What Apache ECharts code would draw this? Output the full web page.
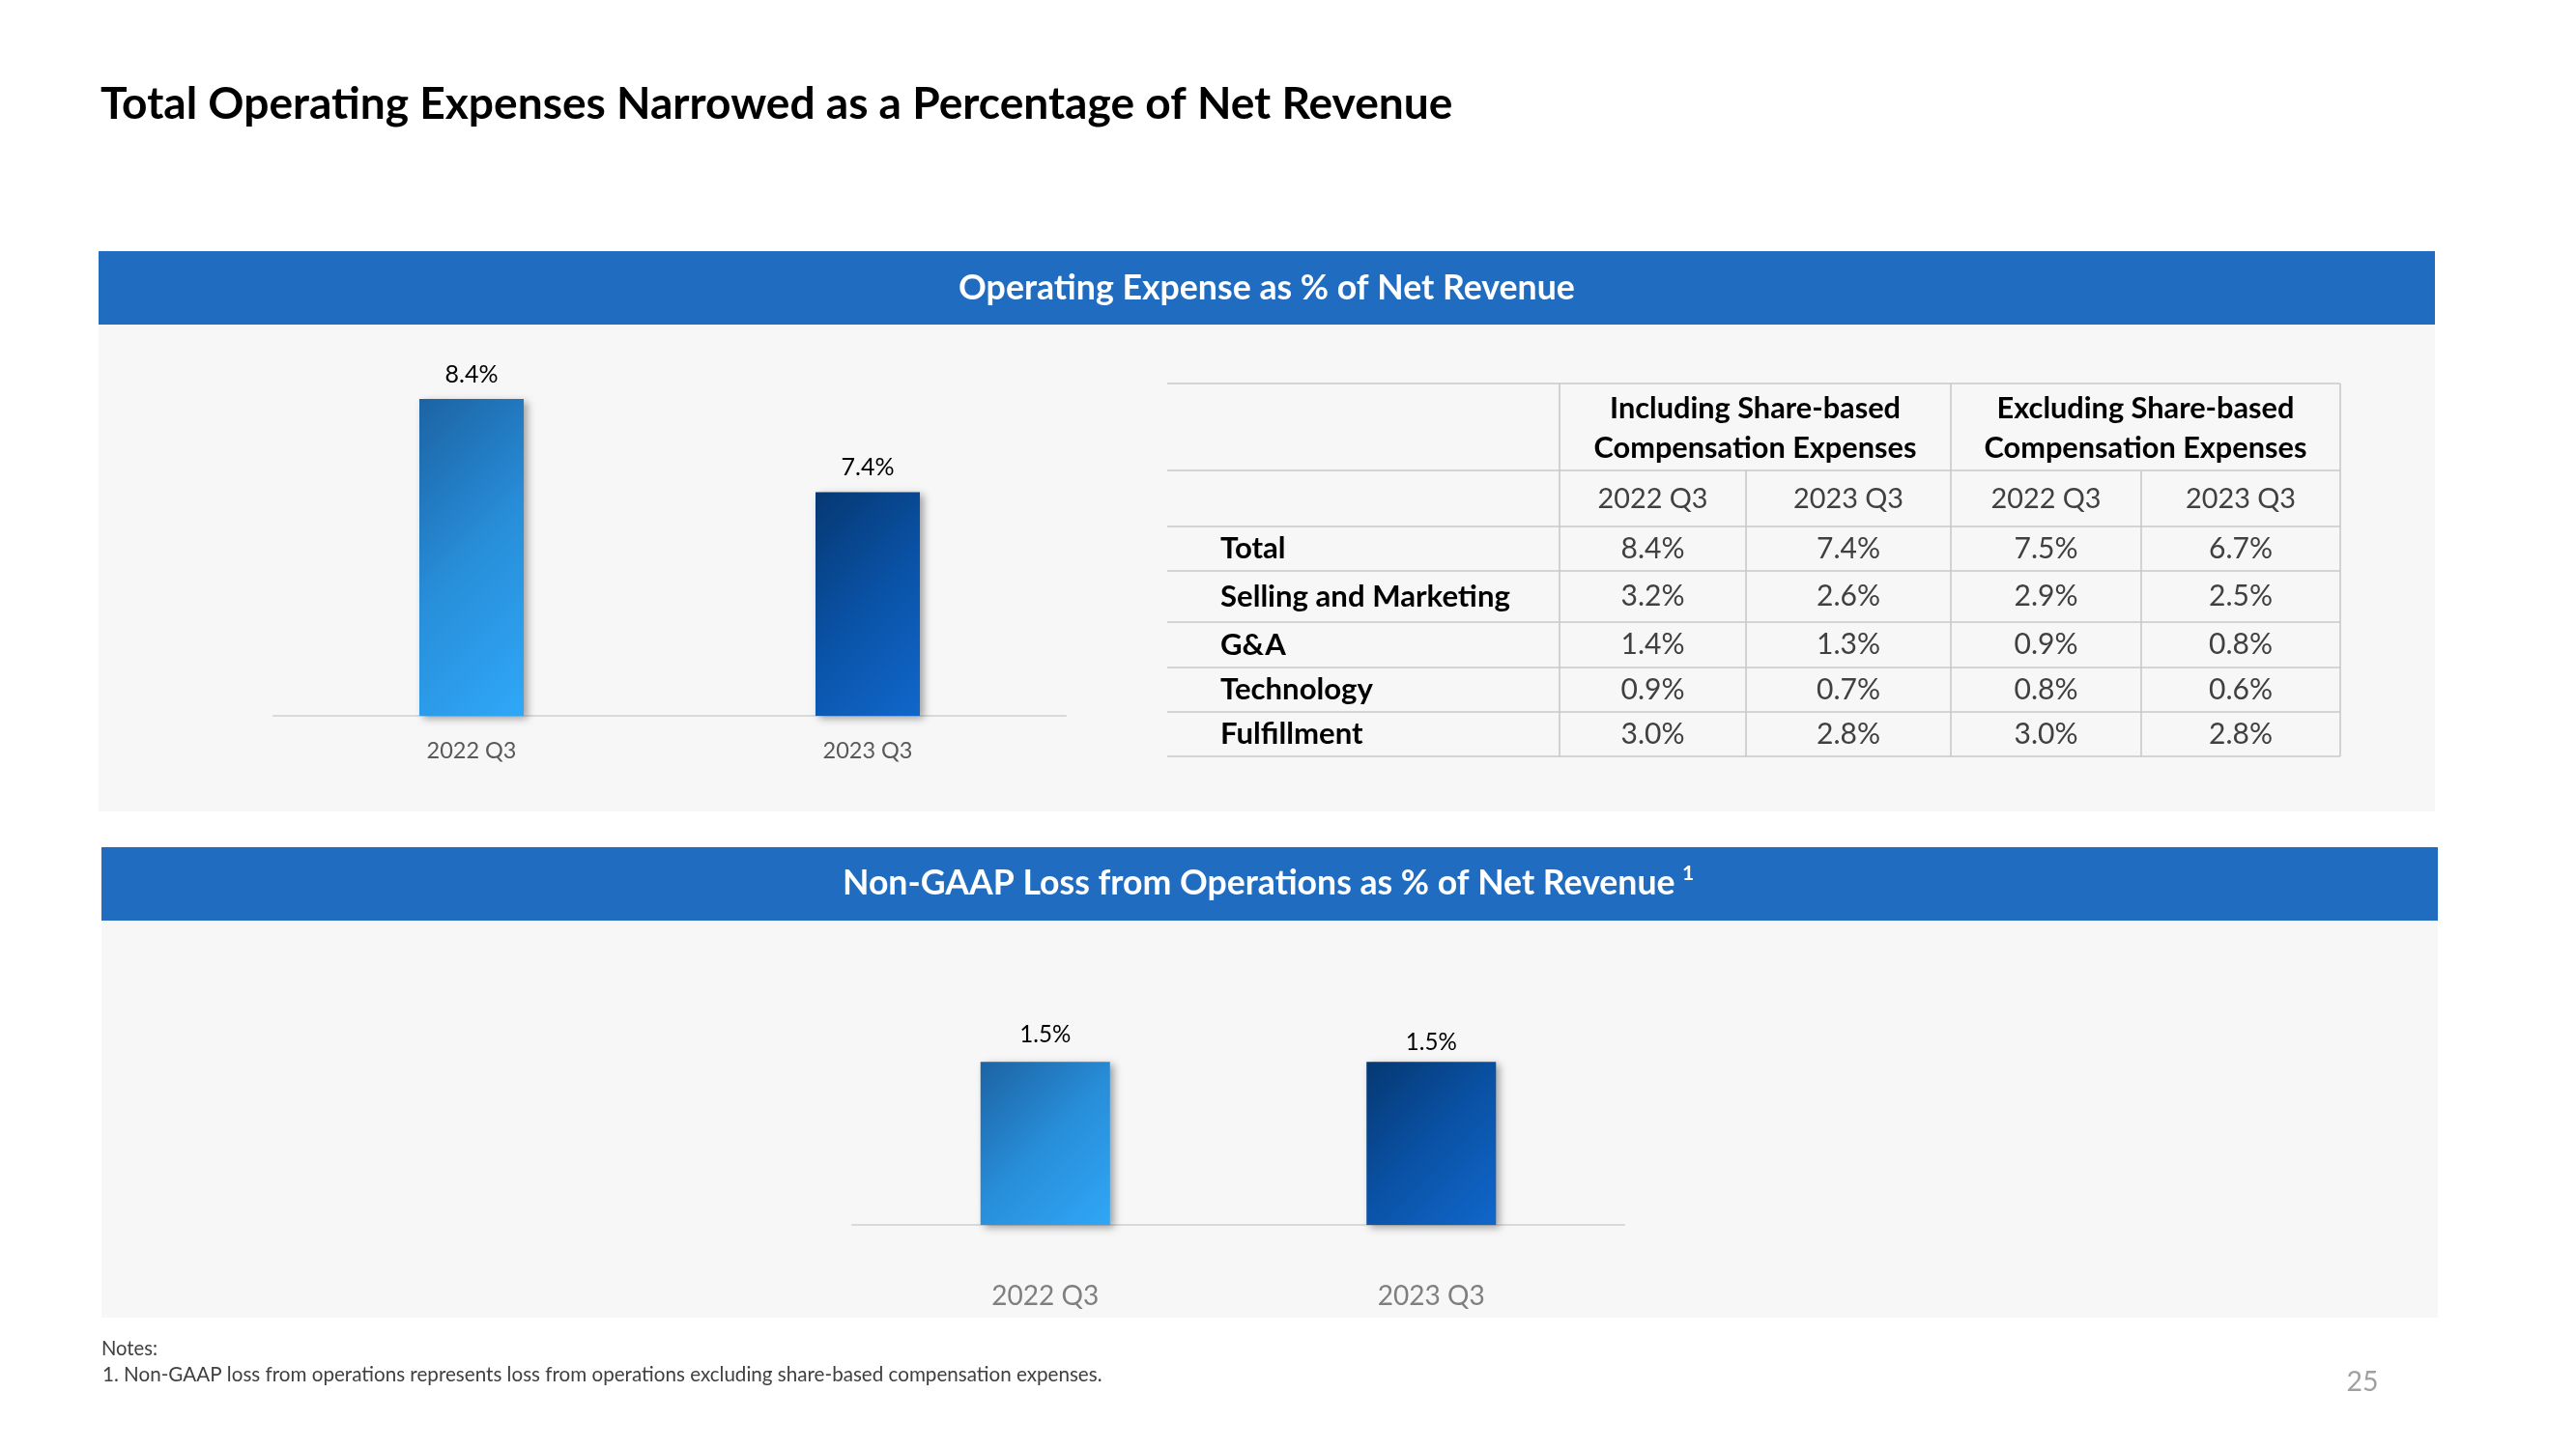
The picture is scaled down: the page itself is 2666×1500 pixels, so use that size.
<!DOCTYPE html>
<html><head><meta charset="utf-8">
<script src="https://cdn.jsdelivr.net/npm/echarts@6/dist/echarts.min.js"></script>
<style>html,body{margin:0;padding:0;background:#fff}#c{width:2666px;height:1500px}</style>
</head><body><div id="c"></div>
<script>
// ---------- data ----------
const pageTitle = 'Total Operating Expenses Narrowed as a Percentage of Net Revenue';
const opexTitle = 'Operating Expense as % of Net Revenue';
const lossTitle = 'Non-GAAP Loss from Operations as % of Net Revenue';
const lossTitleNote = '1';
const quarters = ['2022 Q3', '2023 Q3'];
const opexValues = [8.4, 7.4];
const lossValues = [1.5, 1.5];
const groupHeaders = [['Including Share-based', 'Compensation Expenses'], ['Excluding Share-based', 'Compensation Expenses']];
const columnQuarters = ['2022 Q3', '2023 Q3', '2022 Q3', '2023 Q3'];
const rowLabels = ['Total', 'Selling and Marketing', 'G&A', 'Technology', 'Fulfillment'];
const incl2022 = [8.4, 3.2, 1.4, 0.9, 3.0];
const incl2023 = [7.4, 2.6, 1.3, 0.7, 2.8];
const excl2022 = [7.5, 2.9, 0.9, 0.8, 3.0];
const excl2023 = [6.7, 2.5, 0.8, 0.6, 2.8];
const notesHeading = 'Notes:';
const noteText = '1. Non-GAAP loss from operations represents loss from operations excluding share-based compensation expenses.';
const pageNumber = '25';

// ---------- helpers ----------
const FAM = 'Lato, "Open Sans", sans-serif';
const cv = document.createElement('canvas').getContext('2d');
function fit(text, weight, target) {
  cv.font = weight + ' 100px ' + FAM;
  return 100 * target / cv.measureText(text).width;
}
const pct = v => v.toFixed(1) + '%';

const BLUE = '#1f6cc0';
const PANEL = '#f7f7f7';
const LINE = '#c8c8c8';

const g = [];
function rect(x, y, w, h, fill) { g.push({ type: 'rect', z: -10, shape: { x, y, width: w, height: h }, style: { fill } }); }
function line(x1, y1, x2, y2) { g.push({ type: 'line', z: -5, shape: { x1, y1, x2, y2 }, style: { stroke: LINE, lineWidth: 1.6 } }); }
function text(t, x, y, size, weight, fill, align) {
  g.push({ type: 'text', z: 5, style: { text: t, x, y, fontSize: size, fontWeight: weight, fontFamily: FAM, fill, textAlign: align || 'center', textVerticalAlign: 'middle' } });
}

// page title
text(pageTitle, 104, 108, fit(pageTitle, 'bold', 1400), 'bold', '#000', 'left');

// panels & headers
rect(102, 335, 2418, 505, PANEL);
rect(102, 260, 2418, 76, BLUE);
text(opexTitle, 1311, 298, fit(opexTitle, 'bold', 638), 'bold', '#fff');
rect(105, 953, 2418, 411, PANEL);
rect(105, 877, 2418, 76, BLUE);
text(lossTitle, 872, 915, fit(lossTitle, 'bold', 862), 'bold', '#fff', 'left');
text(lossTitleNote, 1741, 904, 21, 'bold', '#fff', 'left');

// table
const colX = [1208, 1614, 1807, 2019, 2216, 2422];
const rowY = [397, 487, 545, 591, 644, 691, 737, 783];
rowY.forEach(y => line(colX[0], y, colX[5], y));
[1, 3, 5].forEach(i => line(colX[i], rowY[0], colX[i], rowY[7]));
[2, 4].forEach(i => line(colX[i], rowY[1], colX[i], rowY[7]));
const hSize = fit('Compensation Expenses', 'bold', 334);
groupHeaders.forEach((gh, i) => {
  const cx = (colX[1 + 2 * i] + colX[3 + 2 * i]) / 2;
  text(gh[0], cx, 423, hSize, 'bold', '#000');
  text(gh[1], cx, 464, hSize, 'bold', '#000');
});
const ySize = fit('2022 Q3', 'normal', 114);
columnQuarters.forEach((q, i) => text(q, (colX[1 + i] + colX[2 + i]) / 2, 517, ySize, 'normal', '#404040'));
const rSize = fit('Selling and Marketing', 'bold', 300);
const vSize = fit('8.4%', 'normal', 66);
const cols = [incl2022, incl2023, excl2022, excl2023];
rowLabels.forEach((r, j) => {
  const cy = (rowY[2 + j] + rowY[3 + j]) / 2;
  text(r, 1263, cy, rSize, 'bold', '#000', 'left');
  cols.forEach((c, i) => text(pct(c[j]), (colX[1 + i] + colX[2 + i]) / 2, cy, vSize, 'normal', '#404040'));
});

// notes & page number
text(notesHeading, 105, 1396, fit(notesHeading, 'normal', 58), 'normal', '#404040', 'left');
text(noteText, 106, 1423, fit(noteText, 'normal', 1035), 'normal', '#404040', 'left');
text(pageNumber, 2445, 1431, fit(pageNumber, 'normal', 33), 'normal', '#a0a0a0');

// ---------- bars ----------
// 45-degree gradients (normalised end points per bar shape)
function lightGrad(x2, y2) {
  return new echarts.graphic.LinearGradient(0, 0, x2, y2, [{ offset: 0, color: '#1c63a3' }, { offset: 0.5, color: '#288ed9' }, { offset: 1, color: '#2fa7f7' }]);
}
function darkGrad(x2, y2) {
  return new echarts.graphic.LinearGradient(0, 0, x2, y2, [{ offset: 0, color: '#053872' }, { offset: 0.5, color: '#0a52a6' }, { offset: 1, color: '#1067cb' }]);
}
const opexGrads = [lightGrad(2.0, 0.66), darkGrad(1.57, 0.73)];
const lossGrads = [lightGrad(1.13, 0.9), darkGrad(1.13, 0.9)];
const shadow = { shadowColor: 'rgba(0,0,0,0.35)', shadowBlur: 8, shadowOffsetX: 4, shadowOffsetY: 3 };

const lbl1 = fit('8.4%', 'normal', 55);
const lbl2 = fit('1.5%', 'normal', 53);
const ax1 = fit('2022 Q3', 'normal', 93);
const ax2 = fit('2022 Q3', 'normal', 111);
const lossDist = [28, 20];

const chart = echarts.init(document.getElementById('c'), null, { renderer: 'canvas' });
chart.setOption({
  animation: false,
  backgroundColor: '#fff',
  graphic: { elements: g },
  grid: [
    { left: 283, top: 355, width: 820, height: 386 },
    { left: 882, top: 1043, width: 799, height: 225 }
  ],
  xAxis: [
    { gridIndex: 0, type: 'category', data: quarters, axisTick: { show: false },
      axisLine: { lineStyle: { color: '#d9d9d9', width: 2 } },
      axisLabel: { color: '#595959', fontSize: ax1, fontFamily: FAM, margin: 36 - ax1 / 2 } },
    { gridIndex: 1, type: 'category', data: quarters, axisTick: { show: false },
      axisLine: { lineStyle: { color: '#d9d9d9', width: 2 } },
      axisLabel: { color: '#7f7f7f', fontSize: ax2, fontFamily: FAM, margin: 74 - ax2 / 2 } }
  ],
  yAxis: [
    { gridIndex: 0, type: 'value', min: 5, max: 9, show: false, splitLine: { show: false } },
    { gridIndex: 1, type: 'value', min: 0, max: 2, show: false, splitLine: { show: false } }
  ],
  series: [
    { type: 'bar', xAxisIndex: 0, yAxisIndex: 0, barWidth: 108, z: 3,
      data: opexValues.map((v, i) => ({ value: v, itemStyle: Object.assign({ color: opexGrads[i] }, shadow) })),
      label: { show: true, position: 'top', distance: 25 - lbl1 / 2, color: '#000', fontSize: lbl1, fontFamily: FAM, formatter: p => pct(p.value) } },
    { type: 'bar', xAxisIndex: 1, yAxisIndex: 1, barWidth: 134, z: 3,
      data: lossValues.map((v, i) => ({ value: v, itemStyle: Object.assign({ color: lossGrads[i] }, shadow),
        label: { distance: lossDist[i] - lbl2 / 2 } })),
      label: { show: true, position: 'top', color: '#000', fontSize: lbl2, fontFamily: FAM, formatter: p => pct(p.value) } }
  ]
});
</script>
</body></html>
